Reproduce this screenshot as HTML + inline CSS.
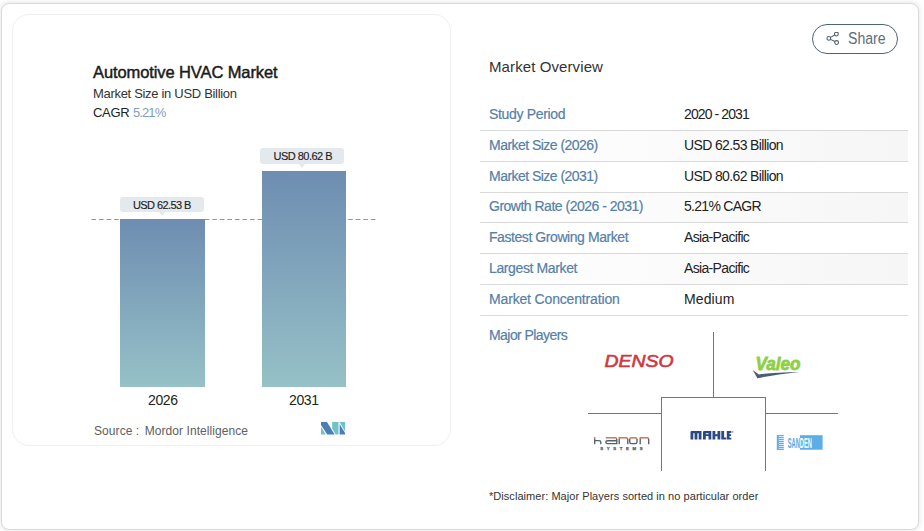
<!DOCTYPE html>
<html>
<head>
<meta charset="utf-8">
<style>
html,body{margin:0;padding:0;}
body{width:924px;height:531px;overflow:hidden;background:#fff;position:relative;font-family:"Liberation Sans",sans-serif;}
.abs{position:absolute;white-space:nowrap;line-height:1;}
#outer{position:absolute;left:1px;top:3px;width:916px;height:525px;border:1px solid #dadada;border-radius:8px;background:#fff;box-shadow:0 0 5px 1px rgba(0,0,0,0.09);}
#card{position:absolute;left:12px;top:14px;width:437px;height:430px;border:1px solid #f0f0f0;border-radius:17px;background:#fff;}
.bar{position:absolute;}
.lbl{position:absolute;background:#e4e9ed;border-radius:3px;}
.lbl:after{content:"";position:absolute;left:50%;bottom:-4px;margin-left:-3.5px;border-left:3.5px solid transparent;border-right:3.5px solid transparent;border-top:4px solid #e4e9ed;}
.row{position:absolute;left:479px;width:429px;height:30px;}
.rl{position:absolute;left:480px;width:428px;height:1px;background:#d9d9d9;}
.k{color:#5580a9;font-size:14px;-webkit-text-stroke:0.2px #5580a9;}
.v{color:#222;font-size:14px;}
.gl{position:absolute;background:#767676;}
</style>
</head>
<body>
<div id="outer"></div>
<div id="card"></div>

<!-- left chart -->
<div class="abs" style="left:93px;top:64px;font-size:16.5px;font-weight:400;color:#1a1a1a;-webkit-text-stroke:0.45px #1a1a1a;letter-spacing:-0.1px;">Automotive HVAC Market</div>
<div class="abs" style="left:93px;top:87px;font-size:13px;color:#333;letter-spacing:-0.31px;">Market Size in USD Billion</div>
<div class="abs" style="left:93px;top:106px;font-size:13px;color:#222;"><span style="letter-spacing:-0.33px">CAGR</span> <span style="color:#7f9dbf;letter-spacing:-0.87px">5.21%</span></div>

<!-- dashed line -->
<svg class="abs" style="left:91px;top:218px" width="287" height="3"><line x1="0.5" y1="1.5" x2="286" y2="1.5" stroke="#8698aa" stroke-width="1" stroke-dasharray="4.6,2.95"/></svg>

<div class="bar" style="left:120px;top:219px;width:85px;height:168px;background:linear-gradient(#6e8db1,#96c1c7);"></div>
<div class="bar" style="left:261.6px;top:171px;width:84.7px;height:216px;background:linear-gradient(#6e8db1,#96c1c7);"></div>

<div class="lbl" style="left:120px;top:197px;width:84px;height:15px;"></div>
<div class="abs" style="left:133px;top:200px;font-size:11px;color:#222;letter-spacing:-0.58px;-webkit-text-stroke:0.15px #222;">USD 62.53 B</div>
<div class="lbl" style="left:260px;top:148px;width:84px;height:15.5px;"></div>
<div class="abs" style="left:273.5px;top:150.8px;font-size:11px;color:#222;letter-spacing:-0.52px;-webkit-text-stroke:0.15px #222;">USD 80.62 B</div>

<div class="abs" style="left:148px;top:393px;font-size:14px;color:#222;letter-spacing:-0.4px;">2026</div>
<div class="abs" style="left:289px;top:393px;font-size:14px;color:#222;letter-spacing:-0.4px;">2031</div>

<div class="abs" style="left:94px;top:424.8px;font-size:12px;color:#606060;letter-spacing:0.07px;">Source :<span style="letter-spacing:-0.6px">&nbsp; </span>Mordor Intelligence</div>
<svg class="abs" style="left:321px;top:422px" width="24" height="12.5" viewBox="0 0 24 12.5">
<polygon points="0,4.8 0,12.5 4.8,12.5" fill="#6ec2c9"/>
<polygon points="0,0 6,0 13.6,12.5 6.2,12.5 0,3" fill="#4a7db9"/>
<polygon points="11.2,0 17.5,0 17.5,12.5 14.6,12.5 11.2,6.5" fill="#6ec2c9"/>
<polygon points="18.6,0 24,0 24,9.5" fill="#6ec2c9"/>
<polygon points="18.6,2 24,11 24,12.5 18.6,12.5" fill="#4a7db9"/>
</svg>

<!-- right panel -->
<div class="abs" style="left:812px;top:24px;width:84px;height:28px;border:1px solid #4d6577;border-radius:16px;"></div>
<svg class="abs" style="left:826px;top:32px" width="14" height="14" viewBox="0 0 14 14">
<g fill="none" stroke="#4f5f6b" stroke-width="1.05">
<circle cx="10.4" cy="2" r="1.9"/><circle cx="2.8" cy="6.4" r="1.85"/><circle cx="10.6" cy="10.5" r="1.9"/>
<line x1="4.5" y1="5.4" x2="8.7" y2="3"/><line x1="4.5" y1="7.4" x2="8.9" y2="9.5"/>
</g></svg>
<div class="abs" style="left:848px;top:31.3px;font-size:16px;color:#5d6d7a;transform:scaleX(0.88);transform-origin:0 0;">Share</div>

<div class="abs" style="left:489px;top:58.7px;font-size:15px;color:#333;letter-spacing:0.1px;">Market Overview</div>

<div class="row" style="top:131px;background:linear-gradient(to right,#fff 0%,#f6f6f6 100%);"></div>
<div class="row" style="top:192px;background:linear-gradient(to right,#fff 0%,#f6f6f6 100%);"></div>
<div class="row" style="top:254px;background:linear-gradient(to right,#fff 0%,#f6f6f6 100%);"></div>
<div class="rl" style="top:130px"></div>
<div class="rl" style="top:161px"></div>
<div class="rl" style="top:192px"></div>
<div class="rl" style="top:222px"></div>
<div class="rl" style="top:253px"></div>
<div class="rl" style="top:284px"></div>
<div class="rl" style="top:315px"></div>

<div class="abs k" style="left:489px;top:107px;letter-spacing:-0.33px;">Study Period</div>
<div class="abs v" style="left:684px;top:107px;letter-spacing:-0.9px;">2020 - 2031</div>
<div class="abs k" style="left:489px;top:138px;letter-spacing:-0.53px;">Market Size (2026)</div>
<div class="abs v" style="left:684px;top:138px;letter-spacing:-0.63px;">USD 62.53 Billion</div>
<div class="abs k" style="left:489px;top:169px;letter-spacing:-0.53px;">Market Size (2031)</div>
<div class="abs v" style="left:684px;top:169px;letter-spacing:-0.63px;">USD 80.62 Billion</div>
<div class="abs k" style="left:489px;top:199px;letter-spacing:-0.5px;">Growth Rate (2026 - 2031)</div>
<div class="abs v" style="left:684px;top:199px;letter-spacing:-0.71px;">5.21% CAGR</div>
<div class="abs k" style="left:489px;top:230px;letter-spacing:-0.43px;">Fastest Growing Market</div>
<div class="abs v" style="left:684px;top:230px;letter-spacing:-0.66px;">Asia-Pacific</div>
<div class="abs k" style="left:489px;top:261px;letter-spacing:-0.38px;">Largest Market</div>
<div class="abs v" style="left:684px;top:261px;letter-spacing:-0.66px;">Asia-Pacific</div>
<div class="abs k" style="left:489px;top:292px;letter-spacing:-0.16px;">Market Concentration</div>
<div class="abs v" style="left:684px;top:292px;letter-spacing:0.1px;">Medium</div>

<div class="abs k" style="left:489px;top:328px;letter-spacing:-0.56px;">Major Players</div>

<!-- grid lines -->
<div class="gl" style="left:713px;top:332px;width:1px;height:65px;"></div>
<div class="gl" style="left:661px;top:397px;width:105px;height:1px;"></div>
<div class="gl" style="left:661px;top:397px;width:1px;height:74px;"></div>
<div class="gl" style="left:765px;top:397px;width:1px;height:74px;"></div>
<div class="gl" style="left:588px;top:413px;width:73px;height:1px;"></div>
<div class="gl" style="left:766px;top:413px;width:72px;height:1px;"></div>

<!-- logos -->
<svg class="abs" style="left:600px;top:352px" width="80" height="20" viewBox="600 352 80 20">
<text x="604.6" y="367.1" font-family="Liberation Sans" font-weight="400" font-style="italic" font-size="15.6" fill="#cf383d" stroke="#cf383d" stroke-width="0.55" textLength="69" lengthAdjust="spacingAndGlyphs">DENSO</text>
</svg>
<svg class="abs" style="left:748px;top:350px" width="60" height="32" viewBox="748 350 60 32">
<text x="755.5" y="370.2" font-family="Liberation Sans" font-weight="700" font-style="italic" font-size="19" fill="#8cd048" stroke="#8cd048" stroke-width="0.85" stroke-linejoin="round" textLength="45" lengthAdjust="spacingAndGlyphs">Valeo</text>
<path d="M752.7,369.9 L757.4,378.3 Q774,374.6 799.6,371.9 Q774,372.4 758.9,374.4 Z" fill="#4b5e72"/>
</svg>
<svg class="abs" style="left:688px;top:429px" width="48" height="13" viewBox="688 429 48 13">
<g fill="#2a4980" fill-rule="evenodd" transform="translate(690.5,431)">
<path d="M0,1.2 Q0,0 1.2,0 L11,0 L11,8.6 L8.2,8.6 L8.2,2.3 L6.9,2.3 L6.9,8.6 L4.1,8.6 L4.1,2.3 L2.8,2.3 L2.8,8.6 L0,8.6 Z"/>
<path d="M12.5,1.2 Q12.5,0 13.7,0 L20.8,0 L20.8,8.6 L18,8.6 L18,5 L15.3,5 L15.3,8.6 L12.5,8.6 Z M15.3,2.2 L18,2.2 L18,3.3 L15.3,3.3 Z"/>
<path d="M22,0 L24.8,0 L24.8,3.3 L27,3.3 L27,0 L29.8,0 L29.8,8.6 L27,8.6 L27,5.2 L24.8,5.2 L24.8,8.6 L22,8.6 Z"/>
<path d="M30.8,0 L33.6,0 L33.6,6.6 L35.8,6.6 L35.8,8.6 L30.8,8.6 Z"/>
<path d="M36.3,0 L40.8,0 L40.8,1.9 L39,1.9 L39,3.3 L40.6,3.3 L40.6,5.1 L39,5.1 L39,6.7 L40.8,6.7 L40.8,8.6 L36.3,8.6 Z"/>
<circle cx="42.3" cy="0.9" r="0.6"/>
</g>
</svg>
<svg class="abs" style="left:590px;top:434px" width="64" height="18" viewBox="590 434 64 18">
<defs><linearGradient id="hg" x1="0" y1="0" x2="0" y2="7.3" gradientUnits="userSpaceOnUse">
<stop offset="0" stop-color="#e2734b"/><stop offset="0.18" stop-color="#e2734b"/><stop offset="0.3" stop-color="#4b6373"/><stop offset="1" stop-color="#4b6373"/></linearGradient></defs>
<g fill="none" stroke="url(#hg)" stroke-width="1.35" transform="translate(594,437)">
<path d="M0.7,0 V7.3 M0.7,3.6 H5 Q6.8,3.6 6.8,5.3 V7.3"/>
<path d="M11.8,0.7 H21 Q22.8,0.7 22.8,2.5 V6.65 H13.6 Q11.8,6.65 11.8,5.1 Q11.8,3.7 13.6,3.7 H22.8"/>
<path d="M25.2,7.3 V0.7 H32 Q33.8,0.7 33.8,2.5 V7.3"/>
<path d="M37.5,0.7 H41.2 Q43,0.7 43,2.5 V4.9 Q43,6.65 41.2,6.65 H37.5 Q35.7,6.65 35.7,4.9 V2.5 Q35.7,0.7 37.5,0.7 Z"/>
<path d="M46.2,7.3 V0.7 H53 Q54.7,0.7 54.7,2.5 V7.3"/>
</g>
<text x="600.2" y="449.6" font-family="Liberation Sans" font-weight="700" font-size="4.3" fill="#5a5a5a" stroke="#5a5a5a" stroke-width="0.25" textLength="42.5" lengthAdjust="spacing">SYSTEMS</text>
</svg>
<svg class="abs" style="left:774px;top:433px" width="52" height="19" viewBox="774 433 52 19">
<defs><clipPath id="sc"><rect x="799.9" y="435.2" width="22.7" height="14.5"/></clipPath></defs>
<rect x="776.8" y="435" width="2" height="15" fill="#5dade6"/>
<g fill="#5dade6"><rect x="778.5" y="435" width="5.3" height="1.25"/><rect x="778.5" y="437" width="5.3" height="1.25"/><rect x="778.5" y="439" width="5.3" height="1.25"/><rect x="778.5" y="441" width="5.3" height="1.25"/><rect x="778.5" y="443" width="5.3" height="1.25"/><rect x="778.5" y="445" width="5.3" height="1.25"/><rect x="778.5" y="447" width="5.3" height="1.25"/><rect x="778.5" y="448.8" width="5.3" height="1.25"/></g>
<rect x="799.9" y="435.2" width="22.7" height="14.5" fill="#5dade6"/>
<text x="787.8" y="447.6" font-family="Liberation Sans" font-weight="700" font-size="14" fill="#4ea6e6" textLength="24" lengthAdjust="spacingAndGlyphs">SANDEN</text>
<text x="787.8" y="447.6" font-family="Liberation Sans" font-weight="700" font-size="14" fill="#fff" textLength="24" lengthAdjust="spacingAndGlyphs" clip-path="url(#sc)">SANDEN</text>
</svg>

<div class="abs" style="left:489px;top:491px;font-size:11px;color:#333;letter-spacing:0.05px;">*Disclaimer: Major Players sorted in no particular order</div>
</body>
</html>
